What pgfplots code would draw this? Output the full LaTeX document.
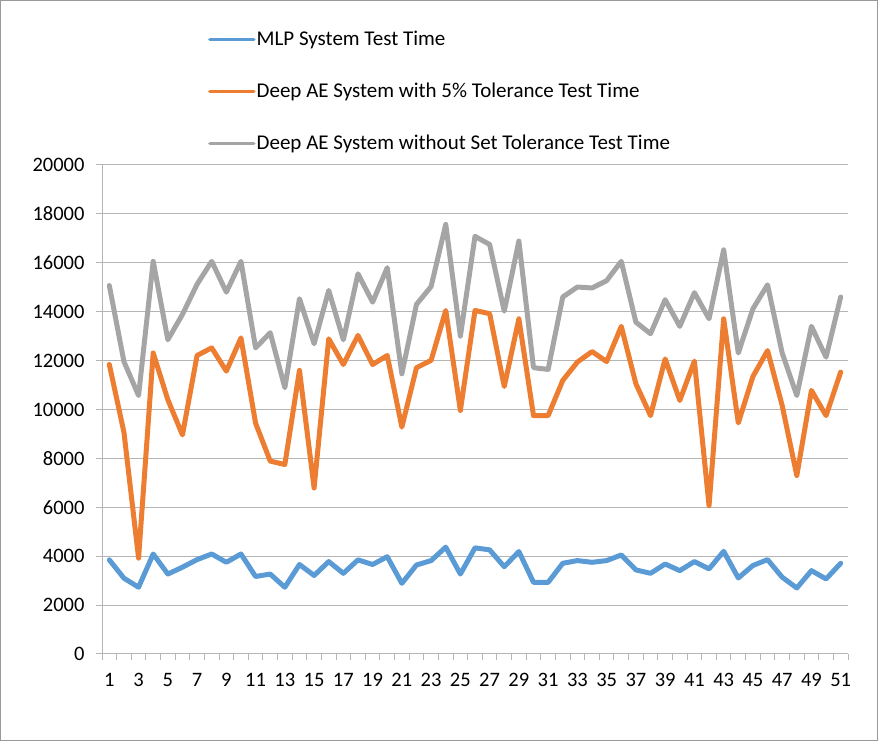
\documentclass[border=0pt]{standalone}
\usepackage{pgfplots}
\pgfplotsset{compat=1.18}
\usepackage{fontspec}
\setmainfont{Carlito}
\definecolor{cblue}{HTML}{5B9BD5}
\definecolor{corange}{HTML}{ED7D31}
\definecolor{cgray}{HTML}{A5A5A5}
\definecolor{gridc}{HTML}{B5B5B5}
\definecolor{framec}{HTML}{999999}
\begin{document}
\begin{tikzpicture}[x=1pt,y=1pt]
\useasboundingbox (0,0) rectangle (879,742);
\draw[framec, line width=1pt] (0.5,1.5) rectangle (877.5,741.5);
\begin{axis}[
  at={(102pt,88pt)}, anchor=south west,
  width=746pt, height=489pt, scale only axis,
  xmin=0.5, xmax=51.5, ymin=0, ymax=20000,
  scaled y ticks=false,
  axis lines=left, axis line style={draw=gridc, line width=1pt, -},
  xtick={1,3,...,51},
  minor xtick={0.5,1.5,...,51.5},
  ytick={0,2000,...,20000},
  tick align=outside,
  major tick length=6pt, minor tick length=6pt,
  major x tick style={draw=none},
  minor x tick style={draw=gridc, line width=1pt},
  y tick style={draw=gridc, line width=1pt},
  ymajorgrids, major grid style={draw=gridc, line width=1pt},
  tick label style={font=\fontsize{20.5}{24}\selectfont},
  /pgf/number format/assume math mode=true,
  /pgf/number format/1000 sep={},
  yticklabel style={xshift=-8pt},
  xticklabel style={yshift=-10pt},
  legend cell align=left,
  legend style={at={(rel axis cs:0.138,1.280)}, anchor=north west, draw=none, fill=none,
    font=\fontsize{21}{25}\selectfont, row sep=34pt,
    nodes={inner sep=1pt}},
  legend image code/.code={\draw[#1, line width=3.5pt, line cap=round] (0pt,0pt) -- (44pt,0pt);},
  every axis plot/.append style={line width=5pt, line join=round, line cap=round, mark=none},
  clip=false,
]
\addplot[cblue] coordinates {
(1,3850)(2,3100)(3,2730)(4,4090)(5,3270)(6,3550)(7,3860)(8,4090)(9,3750)(10,4090)
(11,3170)(12,3270)(13,2730)(14,3660)(15,3210)(16,3780)(17,3300)(18,3850)(19,3660)(20,3980)
(21,2890)(22,3640)(23,3820)(24,4370)(25,3270)(26,4340)(27,4260)(28,3570)(29,4190)(30,2930)
(31,2930)(32,3710)(33,3820)(34,3750)(35,3820)(36,4050)(37,3440)(38,3300)(39,3680)(40,3410)
(41,3780)(42,3480)(43,4200)(44,3110)(45,3620)(46,3860)(47,3140)(48,2700)(49,3410)(50,3070)
(51,3710)};
\addlegendentry{MLP System Test Time}
\addplot[corange] coordinates {
(1,11840)(2,9070)(3,3920)(4,12310)(5,10400)(6,8960)(7,12210)(8,12520)(9,11570)(10,12930)
(11,9440)(12,7890)(13,7750)(14,11600)(15,6790)(16,12890)(17,11840)(18,13030)(19,11840)(20,12210)
(21,9280)(22,11710)(23,12010)(24,14050)(25,9960)(26,14050)(27,13920)(28,10940)(29,13710)(30,9750)
(31,9750)(32,11190)(33,11940)(34,12370)(35,11960)(36,13400)(37,11050)(38,9750)(39,12070)(40,10370)
(41,11980)(42,6070)(43,13710)(44,9450)(45,11350)(46,12410)(47,10160)(48,7300)(49,10780)(50,9750)
(51,11530)};
\addlegendentry{Deep AE System with 5\% Tolerance Test Time}
\addplot[cgray] coordinates {
(1,15070)(2,11960)(3,10570)(4,16060)(5,12850)(6,13890)(7,15120)(8,16060)(9,14800)(10,16060)
(11,12520)(12,13140)(13,10890)(14,14530)(15,12690)(16,14870)(17,12850)(18,15550)(19,14390)(20,15800)
(21,11460)(22,14300)(23,15030)(24,17570)(25,13000)(26,17080)(27,16750)(28,14020)(29,16890)(30,11710)
(31,11640)(32,14600)(33,15010)(34,14970)(35,15270)(36,16060)(37,13570)(38,13100)(39,14490)(40,13400)
(41,14780)(42,13710)(43,16530)(44,12310)(45,14120)(46,15100)(47,12310)(48,10570)(49,13400)(50,12140)
(51,14600)};
\addlegendentry{Deep AE System without Set Tolerance Test Time}
\end{axis}
\end{tikzpicture}
\end{document}
